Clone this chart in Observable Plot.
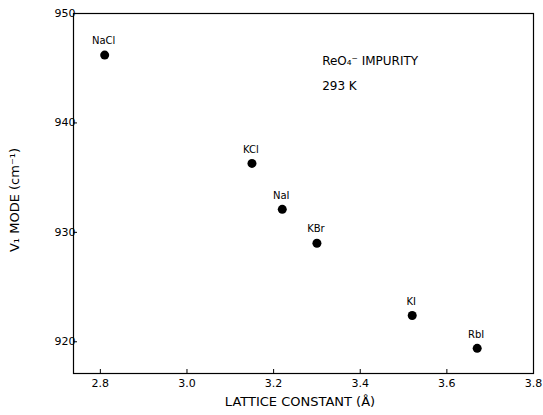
<!DOCTYPE html>
<html>
<head>
<meta charset="utf-8">
<script src="https://cdn.jsdelivr.net/npm/d3@7"></script>
<script src="https://cdn.jsdelivr.net/npm/@observablehq/plot@0.6"></script>
<style>
  html, body { margin: 0; padding: 0; background: #fff; }
  #chart { width: 543px; height: 415px; }
</style>
</head>
<body>
<div id="chart"></div>
<script>
const salts = ["NaCl", "KCl", "NaI", "KBr", "KI", "RbI"];
const latticeConstant = [2.81, 3.15, 3.22, 3.30, 3.52, 3.67];
const nu1Mode = [946.2, 936.3, 932.1, 929.0, 922.4, 919.4];
const xTicks = [2.8, 3.0, 3.2, 3.4, 3.6, 3.8];
const yTicks = [920, 930, 940, 950];
const annotation = ["ReO\u2084\u207B IMPURITY", "293 K"];

const data = salts.map((s, i) => ({salt: s, a: latticeConstant[i], nu: nu1Mode[i]}));
const font = "DejaVu Sans, sans-serif";

const chart = Plot.plot({
  width: 543,
  height: 415,
  marginLeft: 73,
  marginRight: 10,
  marginTop: 13,
  marginBottom: 42,
  style: {fontFamily: font, fontSize: "11px", color: "#000", background: "#fff"},
  x: {domain: [2.738, 3.8]},
  y: {domain: [917.1, 950]},
  marks: [
    Plot.frame({stroke: "#000", strokeWidth: 1.2}),
    Plot.axisX({ticks: xTicks, tickFormat: d => d.toFixed(1), tickSize: -4, tickPadding: 10, label: null, fontSize: 11}),
    Plot.axisY({ticks: yTicks, tickFormat: d => String(d), tickSize: -4, tickPadding: 2, label: null, fontSize: 11}),
    Plot.dot(data, {x: "a", y: "nu", r: 4.5, fill: "#000", stroke: "none"}),
    Plot.text(data, {x: "a", y: "nu", text: "salt", dy: -14, dx: -1, fontSize: 10}),
    Plot.text([annotation[0]], {x: 3.312, y: 945.6, text: d => d, textAnchor: "start", fontSize: 12}),
    Plot.text([annotation[1]], {x: 3.312, y: 943.4, text: d => d, textAnchor: "start", fontSize: 12})
  ]
});

const svg = d3.select(chart);
svg.append("text")
  .attr("x", 300).attr("y", 406)
  .attr("text-anchor", "middle")
  .attr("font-family", font).attr("font-size", 13)
  .text("LATTICE CONSTANT (\u00C5)");
svg.append("text")
  .attr("transform", "translate(19,200) rotate(-90)")
  .attr("text-anchor", "middle")
  .attr("font-family", font).attr("font-size", 13)
  .text("V\u2081 MODE (cm\u207B\u00B9)");

document.getElementById("chart").appendChild(chart);
</script>
</body>
</html>
